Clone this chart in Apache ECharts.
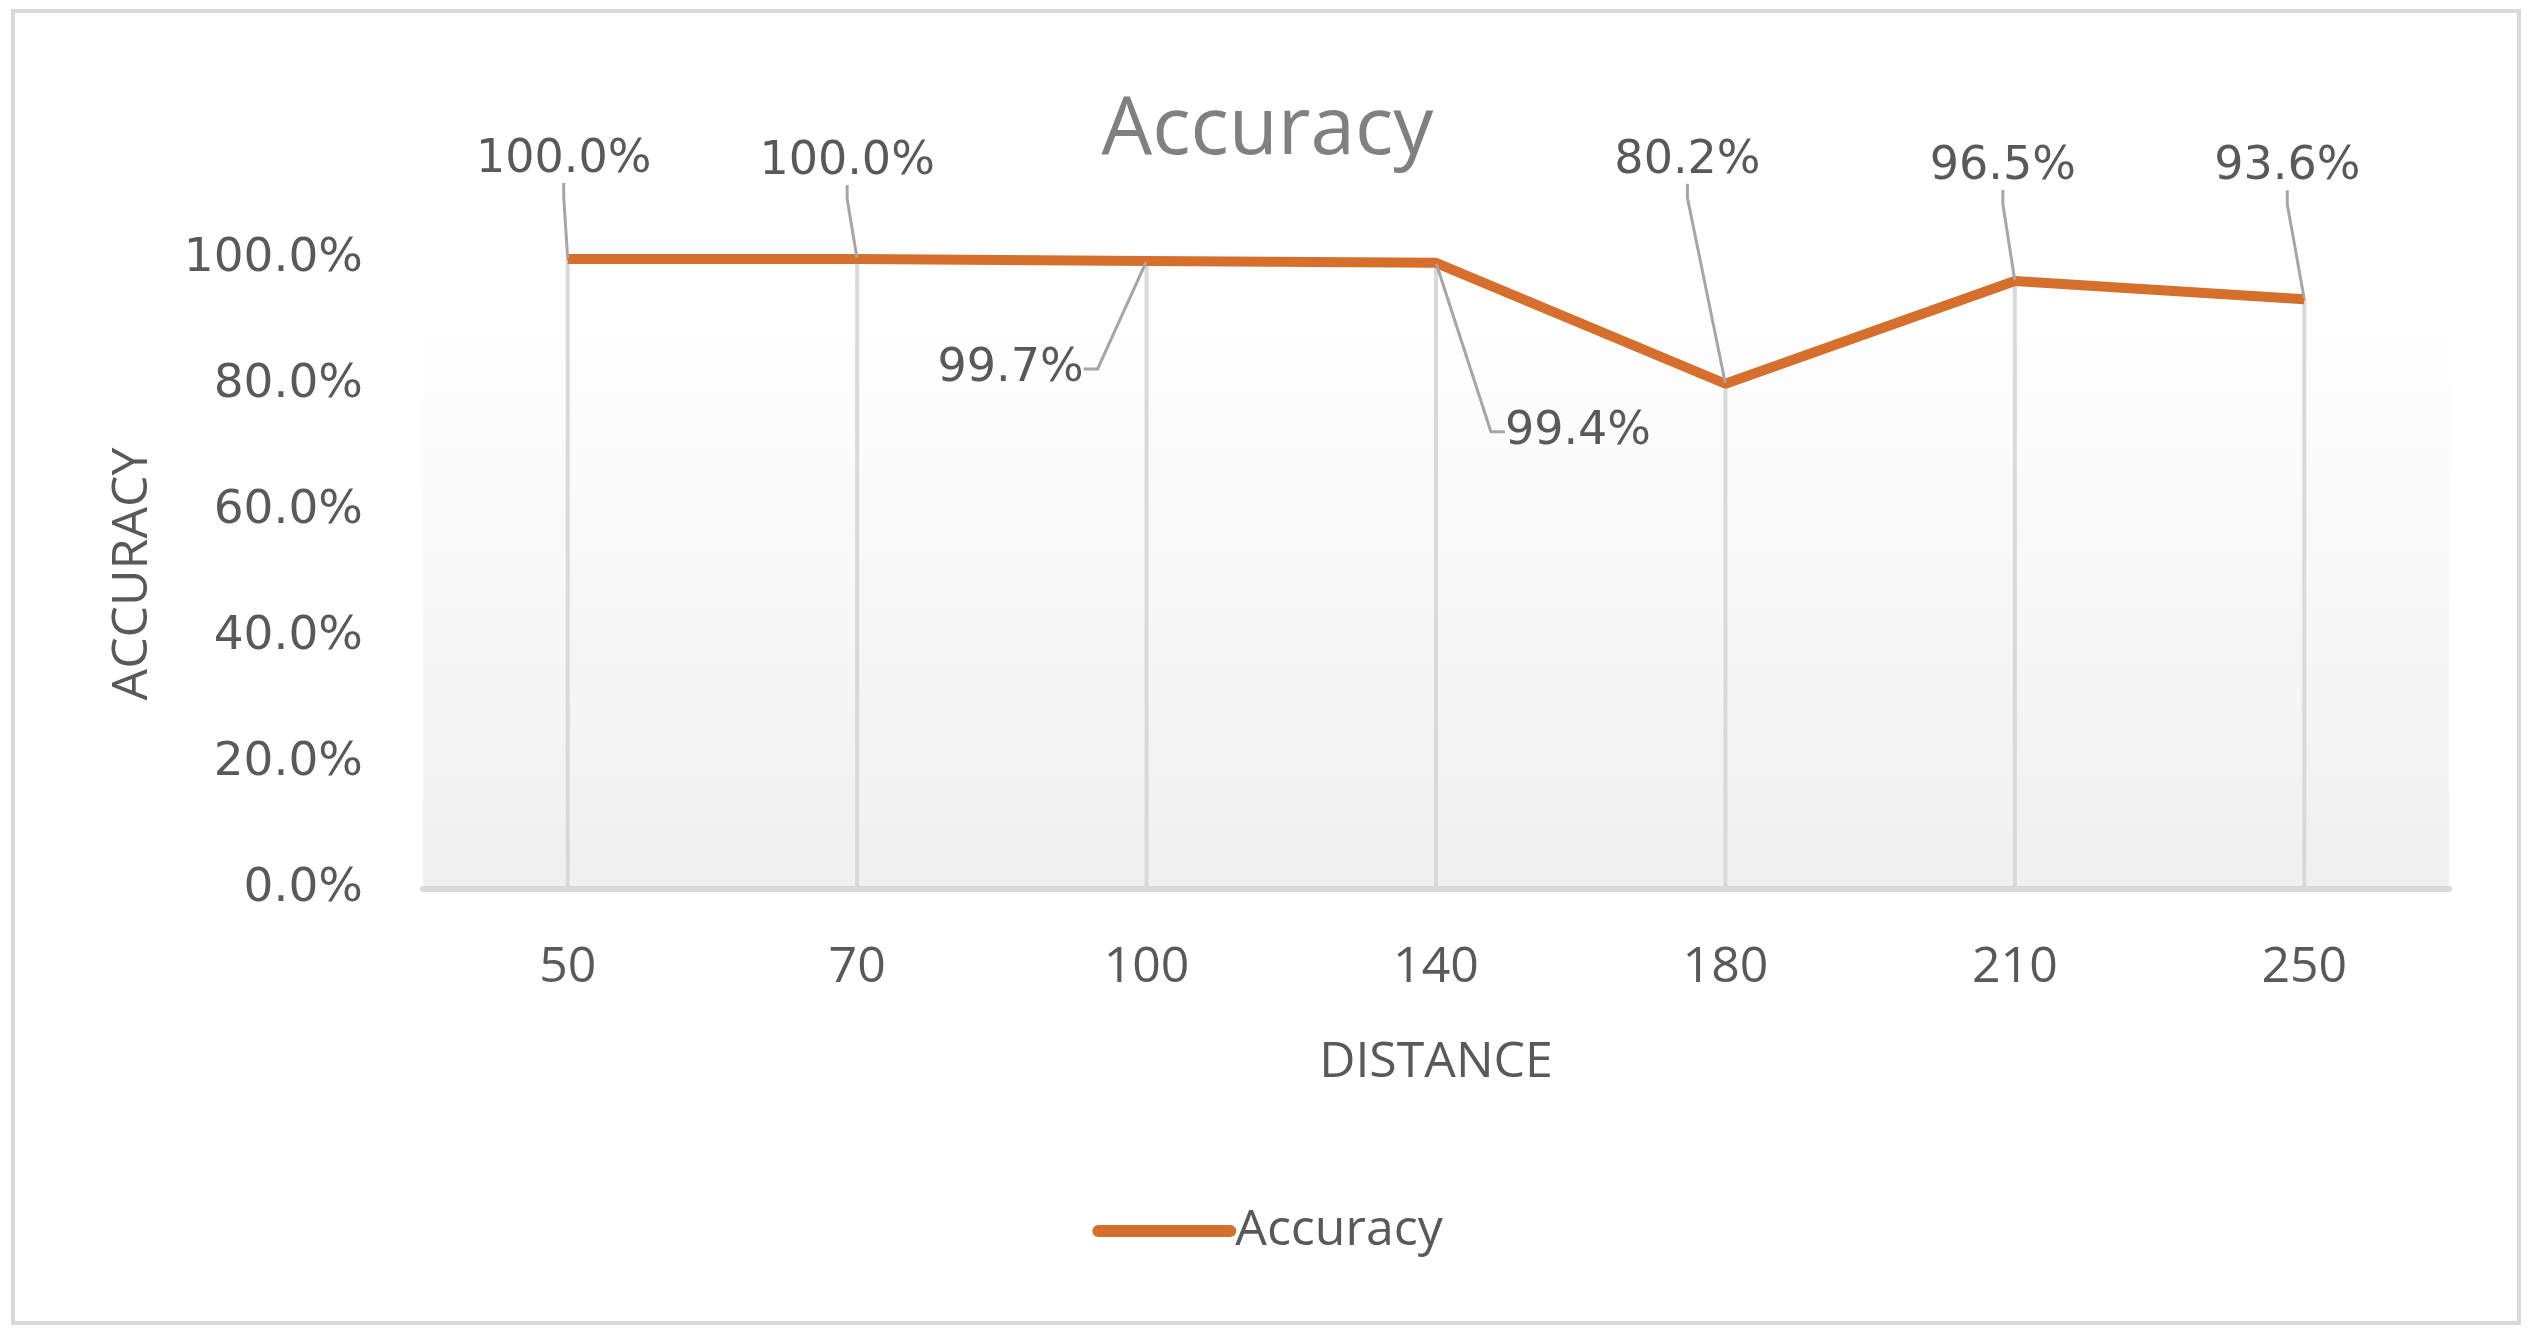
<!DOCTYPE html>
<html>
<head>
<meta charset="utf-8">
<title>Accuracy</title>
<script src="https://cdn.jsdelivr.net/npm/echarts@6/dist/echarts.min.js"></script>
<style>
  html, body { margin: 0; padding: 0; background: #fff; }
  #main { width: 2535px; height: 1339px; }
</style>
</head>
<body>
<div id="main"></div>
<script>
// data
const distances = ['50', '70', '100', '140', '180', '210', '250'];
const accuracy = [100.0, 100.0, 99.7, 99.4, 80.2, 96.5, 93.6];
const yTicks = [0, 20, 40, 60, 80, 100];

// where each data label was dragged to (px, relative to its point)
const labelShift = [[-4, -99], [-10, -97], [-136, 108], [142, 169], [-38, -223], [-12, -114], [-17, -132]];

const orange = '#d56f2b';
const textGrey = '#595959';

let chart = echarts.init(document.getElementById('main'));

chart.setOption({
    animation: false,
    title: {
        text: 'Accuracy',
        left: 'center',
        top: 86,
        textStyle: { fontFamily: 'Open Sans', fontSize: 80, fontWeight: 'normal', color: '#808080' }
    },
    legend: {
        data: ['Accuracy'],
        left: 'center',
        top: 1201,
        itemWidth: 132,
        itemHeight: 14,
        lineStyle: { width: 12, cap: 'round' },
        textStyle: { fontFamily: 'Open Sans', fontSize: 50, color: textGrey }
    },
    graphic: [{
        type: 'rect',
        shape: { x: 13, y: 11, width: 2506, height: 1312 },
        style: { fill: 'none', stroke: '#d9d9d9', lineWidth: 4 },
        silent: true
    }],
    grid: {
        left: 423, right: 86, top: 259, bottom: 450,
        show: true,
        borderWidth: 0,
        backgroundColor: new echarts.graphic.LinearGradient(0, 0, 0, 1, [
            { offset: 0, color: '#ffffff' },
            { offset: 0.12, color: '#fefefe' },
            { offset: 1, color: '#f0f0f0' }
        ])
    },
    xAxis: {
        type: 'category',
        data: distances,
        name: 'DISTANCE',
        nameLocation: 'middle',
        nameGap: 149,
        nameTextStyle: { fontFamily: 'Open Sans', fontSize: 50, color: textGrey },
        axisLine: { lineStyle: { color: '#d9d9d9', width: 6 } },
        axisTick: { show: false },
        axisLabel: { margin: 54, fontFamily: 'Open Sans', fontSize: 50, color: textGrey }
    },
    yAxis: {
        type: 'value',
        min: yTicks[0],
        max: yTicks[yTicks.length - 1],
        interval: yTicks[1] - yTicks[0],
        name: 'ACCURACY',
        nameLocation: 'middle',
        nameGap: 265,
        nameTextStyle: { fontFamily: 'Open Sans', fontSize: 50, color: textGrey },
        axisLine: { show: false },
        axisTick: { show: false },
        splitLine: { show: false },
        axisLabel: {
            margin: 60,
            padding: [7, 0, 0, 0],
            fontFamily: 'DejaVu Sans', fontSize: 47, color: textGrey,
            formatter: v => v.toFixed(1) + '%'
        }
    },
    series: [
        {
            // drop lines from each point to the axis
            name: 'drop',
            type: 'bar',
            data: accuracy,
            barWidth: 4,
            silent: true,
            itemStyle: { color: '#d9d9d9' },
            z: 1
        },
        {
            name: 'Accuracy',
            type: 'line',
            data: accuracy,
            symbol: 'circle',
            symbolSize: 2,
            itemStyle: { color: orange },
            lineStyle: { color: orange, width: 10 },
            z: 3,
            label: {
                show: true,
                position: 'inside',
                padding: [14, 12],
                fontFamily: 'DejaVu Sans',
                fontSize: 46,
                color: textGrey,
                formatter: p => p.value.toFixed(1) + '%'
            },
            labelLine: {
                show: true,
                length2: 14,
                lineStyle: { color: '#a6a6a6', width: 3 }
            },
            labelLayout: p => ({ dx: labelShift[p.dataIndex][0], dy: labelShift[p.dataIndex][1] })
        }
    ]
});
</script>
</body>
</html>
